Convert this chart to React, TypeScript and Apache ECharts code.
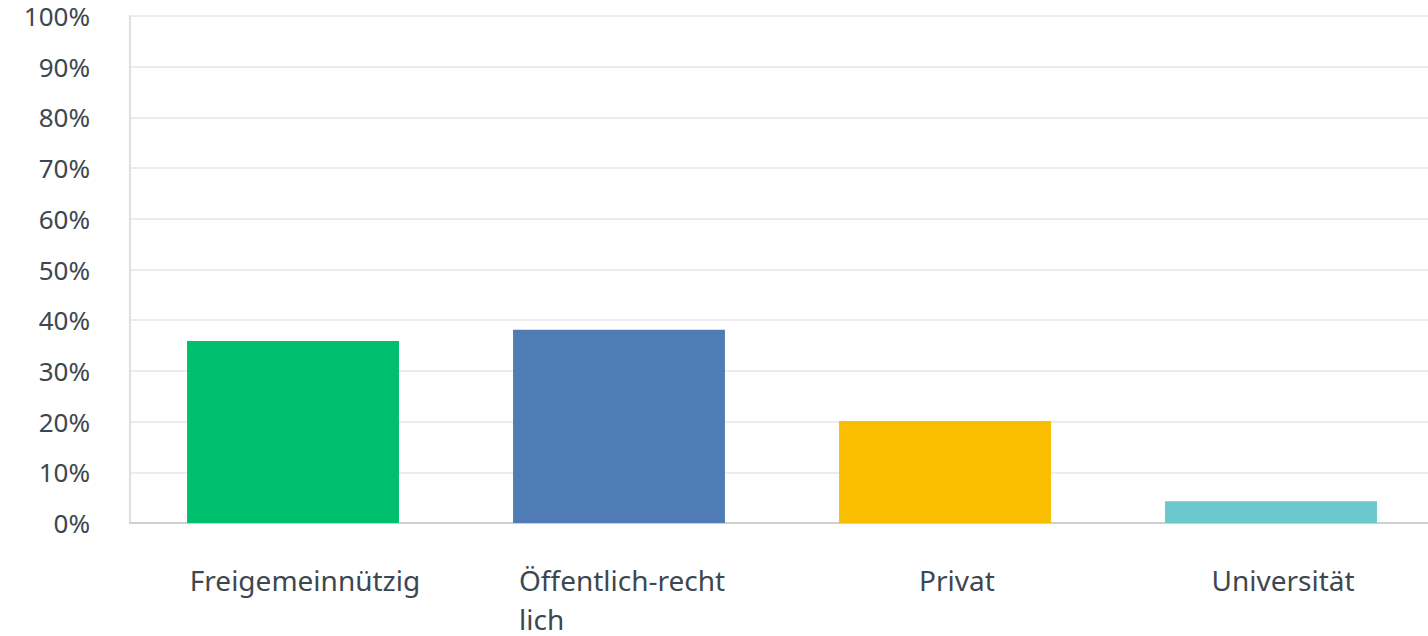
import React, { useEffect, useRef } from "react";
import * as echarts from "echarts";

const categories = ["Freigemeinnützig", "Öffentlich-rechtlich", "Privat", "Universität"];
const values = [35.9, 38.1, 20.1, 4.3];
const colors = ["#00BF6F", "#507CB6", "#F9BE00", "#6BC8CD"];
const labelLines: Record<string, string[]> = {
  "Öffentlich-rechtlich": ["Öffentlich-recht", "lich"],
};

export default function App() {
  const ref = useRef<HTMLDivElement>(null);
  useEffect(() => {
    if (!ref.current) return;
    const chart = echarts.init(ref.current, undefined, { renderer: "svg" });
    chart.setOption({
      animation: false,
      grid: {
        left: 130,
        top: 16,
        width: 1304,
        height: 507,
        containLabel: false,
        outerBoundsMode: "none",
      },
      xAxis: {
        type: "category",
        data: categories,
        axisLine: { show: true, lineStyle: { color: "#cfcfcf", width: 2 } },
        axisTick: { show: false },
        axisLabel: {
          interval: 0,
          margin: 37,
          fontFamily: "Noto Sans",
          fontSize: 28,
          color: "#3d4750",
          lineHeight: 39,
          padding: [0, 0, 0, 24],
          formatter: (v: string) => {
            const lines = labelLines[v];
            if (!lines) return v;
            return lines.map((l) => `{l|${l}}`).join("\n");
          },
          rich: {
            l: {
              width: 224,
              align: "left",
              fontFamily: "Noto Sans",
              fontSize: 28,
              color: "#3d4750",
              lineHeight: 39,
            },
          },
        },
      },
      yAxis: {
        type: "value",
        min: 0,
        max: 100,
        interval: 10,
        axisLine: { show: true, lineStyle: { color: "#e0e0e0", width: 2 } },
        axisTick: { show: false },
        splitLine: { lineStyle: { color: "#ececec", width: 2 } },
        axisLabel: {
          margin: 40,
          fontFamily: "Noto Sans",
          fontSize: 26,
          lineHeight: 26,
          color: "#3d4750",
          formatter: "{value}%",
        },
      },
      series: [
        {
          type: "bar",
          barCategoryGap: "35%",
          data: values.map((v, i) => ({ value: v, itemStyle: { color: colors[i] } })),
        },
      ],
    });
    return () => chart.dispose();
  }, []);
  return (
    <div
      ref={ref}
      style={{ position: "absolute", left: 0, top: 0, width: 1428, height: 636 }}
    />
  );
}
